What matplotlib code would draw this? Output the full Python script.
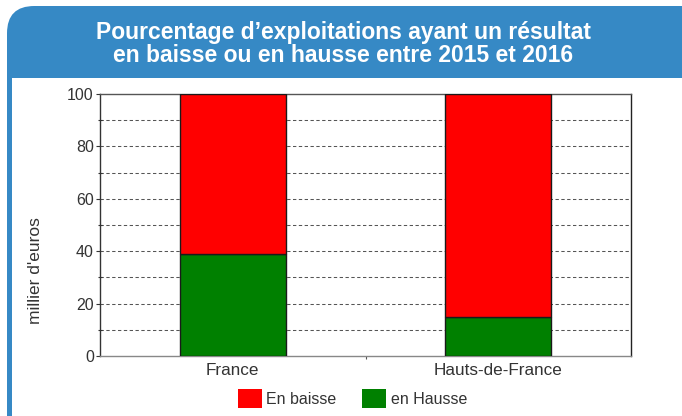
import matplotlib
matplotlib.use("Agg")
import matplotlib.pyplot as plt
from matplotlib.patches import FancyBboxPatch, Rectangle
import numpy as np

plt.rcParams['font.family'] = ['Liberation Sans', 'DejaVu Sans']

categories = ["France", "Hauts-de-France"]
en_hausse = [39, 15]
en_baisse = [61, 85]
series_labels = ["En baisse", "en Hausse"]
title = "Pourcentage d\u2019exploitations ayant un résultat\nen baisse ou en hausse entre 2015 et 2016"
ylabel = "millier d'euros"
yticks = [0, 20, 40, 60, 80, 100]

W, H = 682, 416
fig = plt.figure(figsize=(W / 100, H / 100), dpi=100)

def fx(px):
    return px / W

def fy(py):
    return 1 - py / H

blue = '#3689c5'
# blue frame with rounded top-left corner
frame = FancyBboxPatch((fx(7), fy(H + 40)), fx(W + 40 - 7), (H + 40 - 6) / H,
                       boxstyle="round,pad=0,rounding_size=0.04",
                       transform=fig.transFigure, facecolor=blue, edgecolor='none',
                       mutation_aspect=W / H, zorder=0)
fig.patches.append(frame)
inner = Rectangle((fx(12), fy(H + 10)), fx(W), (H + 10 - 78) / H,
                  transform=fig.transFigure, facecolor='white', edgecolor='none', zorder=1)
fig.patches.append(inner)

fig.text(fx(343.5), fy(44.5), title, ha='center', va='center', color='white',
         fontsize=16.5, fontweight='bold', linespacing=1.0, zorder=3)

ax = fig.add_axes([fx(100), fy(356), fx(631 - 100), (356 - 94) / H])
ax.set_zorder(2)
x = np.arange(len(categories))
edge = '#1a1a1a'
b_h = ax.bar(x, en_hausse, width=0.4, color='#008000', edgecolor=edge, linewidth=1, zorder=3)
b_b = ax.bar(x, en_baisse, width=0.4, bottom=en_hausse, color='#ff0000', edgecolor=edge,
             linewidth=1, zorder=3)

ax.set_xlim(-0.5, 1.5)
ax.set_ylim(0, 100)
ax.set_yticks(yticks)
ax.set_yticks([10, 30, 50, 70, 90], minor=True)
ax.set_xticks(x)
ax.set_xticklabels(categories)
ax.set_xticks([0.5], minor=True)

for yv in range(10, 100, 10):
    ax.axhline(yv, color='#555555', linewidth=0.75, dashes=(3.2, 2.4), zorder=1)

ax.tick_params(axis='y', which='major', length=3, width=0.8, color='#333333',
               labelsize=11.5, labelcolor='#333333', pad=1.5)
ax.tick_params(axis='y', which='minor', length=3, width=0.8, color='#333333', direction='inout')
ax.tick_params(axis='x', which='major', length=0, labelsize=12.3, labelcolor='#333333', pad=5)
ax.tick_params(axis='x', which='minor', length=2, width=0.8, color='#555555')

ax.spines['left'].set_color('#333333')
ax.spines['right'].set_color('#222222')
ax.spines['top'].set_color('#555555')
ax.spines['bottom'].set_color('#888888')
for s in ax.spines.values():
    s.set_linewidth(1)

fig.text(fx(35.5), fy(271), ylabel, rotation=90, ha='center', va='center',
         fontsize=12.5, color='#333333')

leg = fig.legend([b_b, b_h], series_labels, loc='center',
                 bbox_to_anchor=(fx(352.5), fy(398.5)), ncol=2, frameon=False,
                 fontsize=11.5, handlelength=1.5, handleheight=1.5, handletextpad=0.3,
                 columnspacing=1.6, borderpad=0, borderaxespad=0)
for t in leg.get_texts():
    t.set_color('#333333')
for hnd in leg.legend_handles:
    hnd.set_edgecolor('none')

fig.savefig("out.png", dpi=100)
